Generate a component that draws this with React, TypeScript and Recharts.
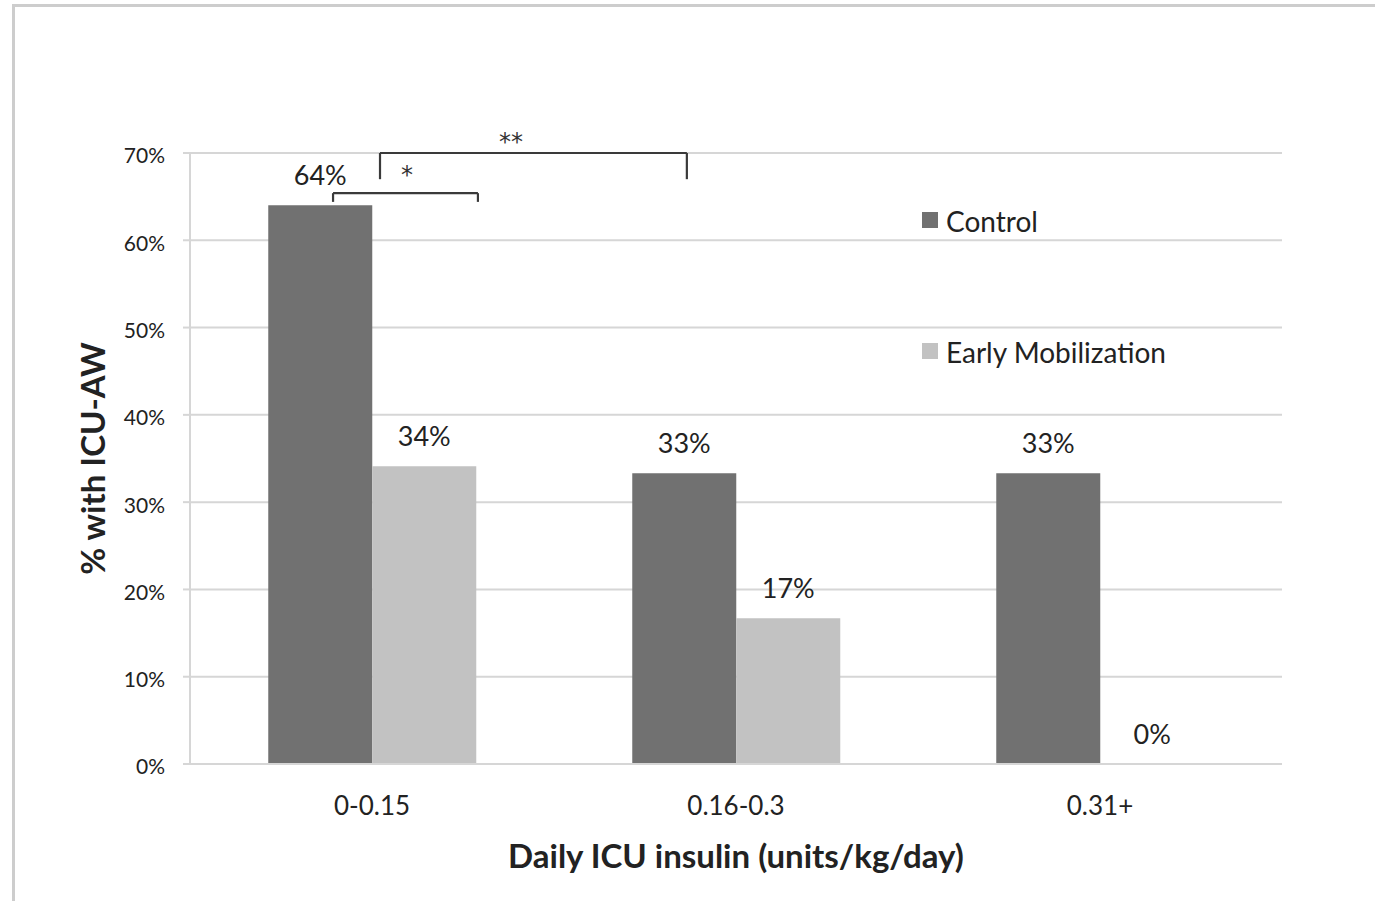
import React from 'react';
import {
  BarChart, Bar, XAxis, YAxis, CartesianGrid, Legend,
  ReferenceLine, ReferenceDot,
} from 'recharts';

const categories = ['0-0.15', '0.16-0.3', '0.31+'];
const controlValues = [64, 33.3, 33.3];
const earlyMobValues = [34.1, 16.7, 0];
const yTicks = [0, 10, 20, 30, 40, 50, 60, 70];
const seriesNames = ['Control', 'Early Mobilization'];
const seriesColors = ['#717171', '#c2c2c2'];

// significance brackets: x in category-index units (0..3 across plot), y in % units
const brackets = [
  { x1: 0.393, x2: 0.791, top: 65.4, bottom: 64.4, mark: '*', markX: 0.596, markY: 67.55 },
  { x1: 0.522, x2: 1.365, top: 70.0, bottom: 67.0, mark: '**', markX: 0.882, markY: 71.35 },
];

const data = categories.map((c, i) => ({
  cat: c,
  pos: i + 0.5,
  control: controlValues[i],
  early: earlyMobValues[i],
}));

const FONT = 'Lato, "Open Sans", sans-serif';
const TEXT = '#222';
const GRID = '#d6d6d6';

const renderLegend = () => (
  <div style={{ fontFamily: FONT, color: TEXT }}>
    {seriesNames.map((n, i) => (
      <div
        key={n}
        style={{
          display: 'flex',
          alignItems: 'center',
          height: 30,
          marginBottom: i === 0 ? 101 : 0,
        }}
      >
        <div style={{ width: 16, height: 16, background: seriesColors[i], marginRight: 8, marginTop: -2 }} />
        <span style={{ fontSize: 28, lineHeight: '30px' }}>{n}</span>
      </div>
    ))}
  </div>
);

const barLabel = (props: any) => {
  const { x, y, width, value } = props;
  if (value === undefined || value === null) return null;
  return (
    <text
      x={Number(x) + Number(width) / 2}
      y={Number(y) - 20}
      textAnchor="middle"
      fontSize={27}
      fontFamily={FONT}
      fill={TEXT}
    >
      {`${Math.round(Number(value))}%`}
    </text>
  );
};

const zeroMin = (v: any) => (Number(v) === 0 ? 0.01 : 0);

export default function App() {
  return (
    <div style={{ position: 'absolute', left: 0, top: 0, width: 1375, height: 901, overflow: 'hidden', background: '#fff' }}>
      <div
        style={{
          position: 'absolute', left: 12, top: 4, width: 1420, height: 940,
          borderLeft: '3px solid #cdcdcd', borderTop: '3px solid #cdcdcd',
        }}
      />
      <div style={{ position: 'absolute', left: 0, top: 0 }}>
        <BarChart
          width={1375}
          height={901}
          data={data}
          margin={{ top: 153, right: 93, bottom: 37, left: 0 }}
          barCategoryGap="21.5%"
          barGap={0}
        >
          <CartesianGrid vertical={false} stroke={GRID} strokeWidth={2} />
          <XAxis
            dataKey="cat"
            height={100}
            tickLine={false}
            tickSize={0}
            tickMargin={33}
            axisLine={{ stroke: GRID, strokeWidth: 2 }}
            tick={{ fontSize: 26, fill: TEXT, fontFamily: FONT }}
            label={{
              content: (p: any) => {
                const vb = p.viewBox || {};
                return (
                  <text
                    x={vb.x + vb.width / 2}
                    y={868}
                    textAnchor="middle"
                    fontSize={33}
                    fontWeight="bold"
                    fontFamily={FONT}
                    fill={TEXT}
                  >
                    Daily ICU insulin (units/kg/day)
                  </text>
                );
              },
            }}
          />
          <XAxis
            xAxisId="n"
            dataKey="pos"
            type="number"
            domain={[0, 3]}
            ticks={[0, 1, 2, 3]}
            allowDataOverflow
            hide
          />
          <YAxis
            width={190}
            domain={[0, 70]}
            ticks={yTicks}
            interval={0}
            tickFormatter={(v: number) => `${v}%`}
            tickSize={7}
            tickMargin={18}
            tickLine={{ stroke: GRID, strokeWidth: 2 }}
            axisLine={{ stroke: GRID, strokeWidth: 2 }}
            tick={{ fontSize: 21, fill: TEXT, fontFamily: FONT, dy: 3 }}
            label={{
              content: (p: any) => {
                const vb = p.viewBox || {};
                const cx = 105;
                const cy = vb.y + vb.height / 2;
                return (
                  <text
                    x={cx}
                    y={cy}
                    transform={`rotate(-90, ${cx}, ${cy})`}
                    textAnchor="middle"
                    fontSize={33}
                    fontWeight="bold"
                    fontFamily={FONT}
                    fill={TEXT}
                  >
                    % with ICU-AW
                  </text>
                );
              },
            }}
          />
          <Legend
            layout="horizontal"
            verticalAlign="middle"
            align="center"
            content={renderLegend}
            wrapperStyle={{ left: 922, top: 206, width: 340 }}
          />
          <Bar dataKey="control" name={seriesNames[0]} fill={seriesColors[0]} isAnimationActive={false} label={barLabel} />
          <Bar dataKey="early" name={seriesNames[1]} fill={seriesColors[1]} isAnimationActive={false} label={barLabel} minPointSize={zeroMin} />
          {brackets.map((b, i) => (
            <ReferenceLine
              key={`l${i}`}
              xAxisId="n"
              segment={[{ x: b.x1, y: b.bottom }, { x: b.x1, y: b.top }]}
              stroke="#3a3a3a"
              strokeWidth={2.2}
              ifOverflow="visible"
            />
          ))}
          {brackets.map((b, i) => (
            <ReferenceLine
              key={`h${i}`}
              xAxisId="n"
              segment={[{ x: b.x1, y: b.top }, { x: b.x2, y: b.top }]}
              stroke="#3a3a3a"
              strokeWidth={2.2}
              ifOverflow="visible"
            />
          ))}
          {brackets.map((b, i) => (
            <ReferenceLine
              key={`r${i}`}
              xAxisId="n"
              segment={[{ x: b.x2, y: b.top }, { x: b.x2, y: b.bottom }]}
              stroke="#3a3a3a"
              strokeWidth={2.2}
              ifOverflow="visible"
            />
          ))}
          {brackets.map((b, i) => (
            <ReferenceDot
              key={`m${i}`}
              xAxisId="n"
              x={b.markX}
              y={b.markY}
              r={0}
              fill="none"
              stroke="none"
              ifOverflow="visible"
              label={{ value: b.mark, position: 'center', fontSize: 24, fill: '#333', fontFamily: '"DejaVu Sans", sans-serif' }}
            />
          ))}
        </BarChart>
      </div>
    </div>
  );
}
